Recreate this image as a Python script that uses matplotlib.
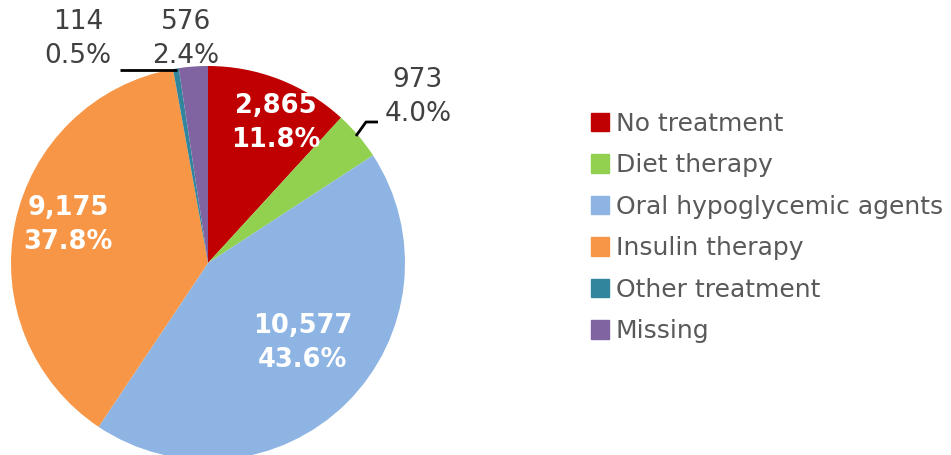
import matplotlib.pyplot as plt

# treatment groups and patient counts
categories = ['No treatment', 'Diet therapy', 'Oral hypoglycemic agents',
              'Insulin therapy', 'Other treatment', 'Missing']
counts = [2865, 973, 10577, 9175, 114, 576]
colors = ['#C00000', '#92D050', '#8DB4E2', '#F79646', '#31859C', '#8064A2']

total = sum(counts)
pcts = [c / total * 100 for c in counts]

W, H = 951, 455
fig = plt.figure(figsize=(W / 100, H / 100), dpi=100)

# pie centre (208, 263) px, radius 197 px
cx, cy, r = 208, 263, 197
ax = fig.add_axes([(cx - r) / W, (H - cy - r) / H, 2 * r / W, 2 * r / H])
ax.pie(counts, colors=colors, startangle=90, counterclock=False,
       radius=1, wedgeprops=dict(linewidth=0))
ax.set_xlim(-1, 1)
ax.set_ylim(-1, 1)
ax.set_aspect('equal')
ax.axis('off')


def px(x, y):
    return (x - cx) / r, (cy - y) / r


# label spots per wedge (pixel positions) and whether inside the wedge
label_px = [(276, 123), (418, 97), (303, 343), (68, 225), (78, 39), (186, 39)]
inside = [True, False, True, True, False, False]

for c, p, (lx, ly), ins in zip(counts, pcts, label_px, inside):
    txt = f'{c:,}\n{p:.1f}%'
    x, y = px(lx, ly)
    if ins:
        ax.text(x, y, txt, ha='center', va='center', color='white',
                fontsize=18.5, fontweight='bold', linespacing=1.36, clip_on=False)
    else:
        ax.text(x, y, txt, ha='center', va='center', color='#404040',
                fontsize=19, linespacing=1.36, clip_on=False)

# leader lines for the small slices
for pts in ([(356, 136), (366, 122), (378, 122)], [(120, 70), (177, 70)]):
    xs, ys = zip(*[px(a, b) for a, b in pts])
    ax.plot(xs, ys, color='black', lw=2, clip_on=False, solid_capstyle='butt')

handles = [plt.Rectangle((0, 0), 1, 1, color=col) for col in colors]
fig.legend(handles, categories, loc='center left',
           bbox_to_anchor=(578 / W, 1 - 227.5 / H), frameon=False,
           fontsize=18, handlelength=0.75, handleheight=0.75,
           handletextpad=0.25, labelspacing=0.70, borderpad=0,
           labelcolor='#595959')

fig.savefig('out.png', dpi=100)
